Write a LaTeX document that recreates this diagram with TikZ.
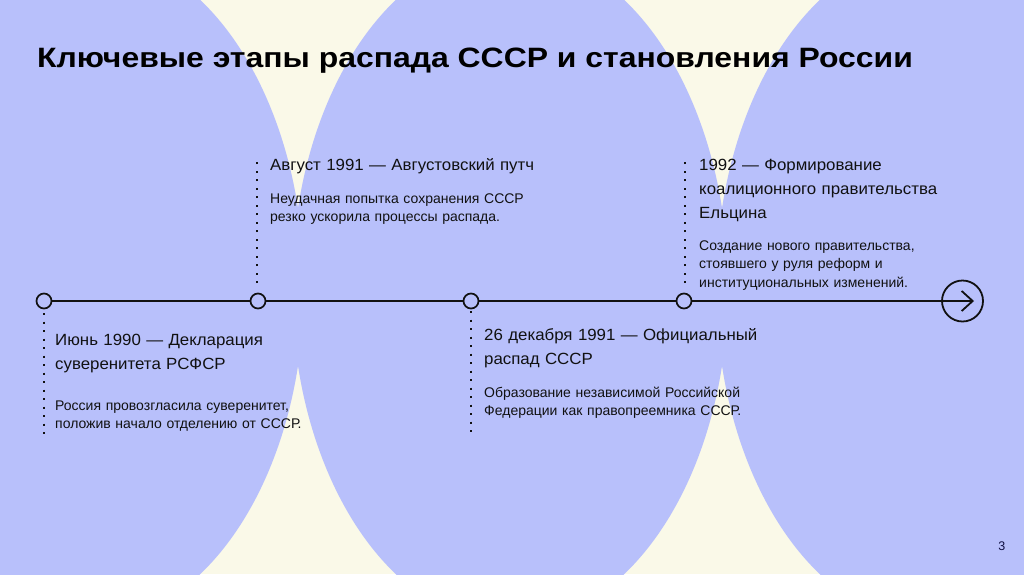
\documentclass[tikz,border=0pt]{standalone}
\usepackage{fontspec}
\setmainfont{Liberation Sans}
\newfontfamily\titlefont[FakeStretch=1.14]{Liberation Sans}
\newfontfamily\headfont[FakeStretch=1.04]{Liberation Sans}
\usetikzlibrary{arrows.meta}
\definecolor{lav}{RGB}{184,192,251}
\definecolor{cream}{RGB}{250,249,232}
\definecolor{ink}{RGB}{17,17,17}
\begin{document}
\begin{tikzpicture}[x=1pt,y=-1pt,
  tline/.style={line width=1.8pt, draw=ink},
  tnode/.style={circle, draw=ink, line width=1.7pt, fill=lav, minimum size=15pt, inner sep=0pt},
  endcirc/.style={circle, draw=ink, line width=1.8pt, minimum size=41pt, inner sep=0pt},
  dotline/.style={draw=ink, line width=2pt, dash pattern=on 2pt off 6.5pt},
  headtxt/.style={anchor=base west, inner sep=0pt, text width=320pt, align=left, text=ink,
    font=\headfont\fontsize{16.2}{24}\selectfont},
  desctxt/.style={anchor=base west, inner sep=0pt, text width=320pt, align=left, text=ink,
    font=\fontsize{14}{18.5}\selectfont},
]
\useasboundingbox (0,0) rectangle (1024,574);
\begin{scope}
\clip (0,0) rectangle (1024,574);
\fill[cream] (0,0) rectangle (1024,574);
\fill[lav] (86,287) ellipse [x radius=218, y radius=337];
\fill[lav] (510,287) ellipse [x radius=218, y radius=337];
\fill[lav] (934,287) ellipse [x radius=218, y radius=337];
\end{scope}

\node[anchor=base west, inner sep=0pt, text=black, font=\titlefont\bfseries\fontsize{28}{33}\selectfont] (title) at (37,67.5) {Ключевые этапы распада СССР и становления России};

% timeline nodes
\node[tnode] (n1) at (44,301) {};
\node[tnode] (n2) at (258,301) {};
\node[tnode] (n3) at (471,301) {};
\node[tnode] (n4) at (684,301) {};
\node[endcirc] (ac) at (962.5,301) {};
\coordinate (tip) at (974,301);

\draw[tline] (n1) -- (n2);
\draw[tline] (n2) -- (n3);
\draw[tline] (n3) -- (n4);
\draw[tline, -{Straight Barb[length=11pt, width=20pt, line width=1.8pt]}] (n4) -- (tip);

% dotted guides
\coordinate (d1a) at (44,313);  \coordinate (d1b) at (44,434);
\coordinate (d2a) at (257,283); \coordinate (d2b) at (257,162);
\coordinate (d3a) at (471,311); \coordinate (d3b) at (471,432);
\coordinate (d4a) at (685,283); \coordinate (d4b) at (685,162);
\draw[dotline] (d1a) -- (d1b);
\draw[dotline] (d2a) -- (d2b);
\draw[dotline] (d3a) -- (d3b);
\draw[dotline] (d4a) -- (d4b);

% event texts
\node[headtxt] (h1) at (55,345) {Июнь 1990 — Декларация\\суверенитета РСФСР};
\node[desctxt] (t1) at (55,410) {Россия провозгласила суверенитет,\\положив начало отделению от СССР.};

\node[headtxt] (h2) at (270,170.5) {Август 1991 — Августовский путч};
\node[desctxt] (t2) at (270,203.3) {Неудачная попытка сохранения СССР\\резко ускорила процессы распада.};

\node[headtxt] (h3) at (484,340) {26 декабря 1991 — Официальный\\распад СССР};
\node[desctxt] (t3) at (484,397) {Образование независимой Российской\\Федерации как правопреемника СССР.};

\node[headtxt] (h4) at (699,170) {1992 — Формирование\\коалиционного правительства\\Ельцина};
\node[desctxt] (t4) at (699,250) {Создание нового правительства,\\стоявшего у руля реформ и\\институциональных изменений.};

\node[anchor=base east, inner sep=0pt, text=ink!80!blue, font=\fontsize{12.5}{14}\selectfont] (pg) at (1005.5,550.7) {3};
\end{tikzpicture}
\end{document}
